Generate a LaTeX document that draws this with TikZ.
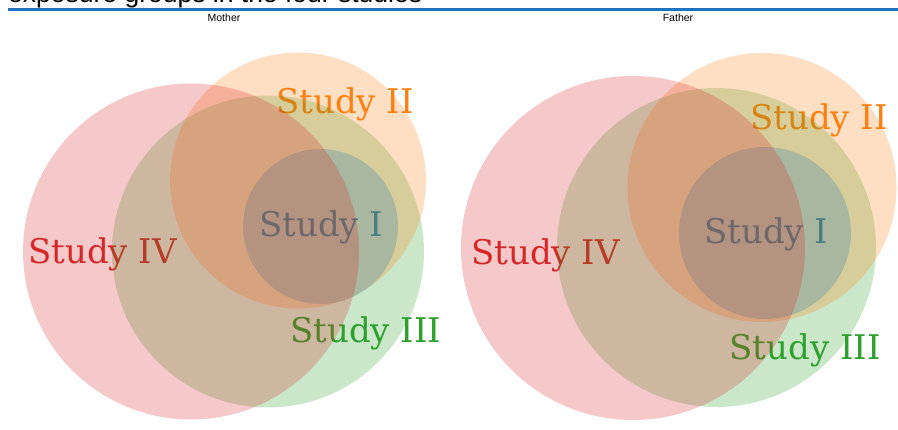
\documentclass[tikz,border=0pt]{standalone}
\usepackage{fontspec}
\setmainfont{DejaVu Serif}
\newfontfamily\headfont{Liberation Sans}
\definecolor{cred}{HTML}{D62728}
\definecolor{corange}{HTML}{FF7F0E}
\definecolor{cgreen}{HTML}{2CA02C}
\definecolor{cblue}{HTML}{1F77B4}
\definecolor{rulecol}{HTML}{1F72BE}
\begin{document}
\begin{tikzpicture}[x=1pt,y=-1pt,
  setcirc/.style={circle,inner sep=0pt,draw=none,fill=#1,fill opacity=0.25},
  setlabel/.style={anchor=base west,inner sep=0pt,text=#1,font=\fontsize{34}{34}\selectfont},
  panellabel/.style={inner sep=0pt,font=\headfont\fontsize{10.5}{12}\selectfont}]
\useasboundingbox (0,0) rectangle (898,430);
\clip (0,0) rectangle (898,430);

% heading and rule
\node[anchor=base west,inner sep=0pt,font=\headfont\fontsize{26.5}{28}\selectfont] (head) at (8,3) {exposure groups in the four studies};
\coordinate (ruleL) at (8,9.5);
\coordinate (ruleR) at (898,9.5);
\draw[rulecol,line width=2.4pt] (ruleL) -- (ruleR);

\node[panellabel] (mother) at (224,18) {Mother};
\node[panellabel] (father) at (678,18) {Father};

% ---- Mother panel: labels first, then translucent sets on top
\node[setlabel=cred]    (m4lab) at (28,264)  {Study IV};
\node[setlabel=corange] (m2lab) at (276,114) {Study II};
\node[setlabel=cgreen]  (m3lab) at (290,342.5) {Study III};
\node[setlabel=cblue]   (m1lab) at (259,236.5) {Study I};

\node[setcirc=cgreen,minimum size=312pt]  (m3) at (268,251.5) {};
\node[setcirc=corange,minimum size=256pt] (m2) at (298,180.5) {};
\node[setcirc=cblue,minimum size=155pt]   (m1) at (320.5,226.5) {};
\node[setcirc=cred,minimum size=336pt]    (m4) at (191,251.5) {};

% ---- Father panel
\node[setlabel=cred]    (f4lab) at (471,265)   {Study IV};
\node[setlabel=corange] (f2lab) at (750,129.5) {Study II};
\node[setlabel=cgreen]  (f3lab) at (729.5,359.5) {Study III};
\node[setlabel=cblue]   (f1lab) at (704,243.5) {Study I};

\node[setcirc=cgreen,minimum size=319pt]  (f3) at (716.5,247.5) {};
\node[setcirc=corange,minimum size=269pt] (f2) at (762,187.5) {};
\node[setcirc=cblue,minimum size=172pt]   (f1) at (765,233) {};
\node[setcirc=cred,minimum size=344pt]    (f4) at (633,248) {};
\end{tikzpicture}
\end{document}
